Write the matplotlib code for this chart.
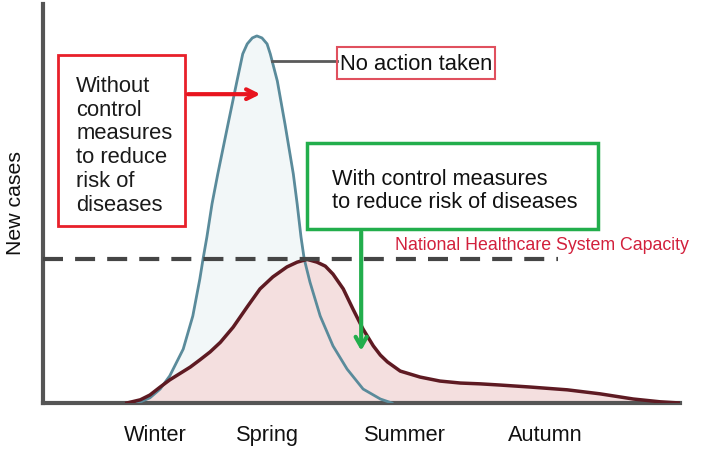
import matplotlib.pyplot as plt
from matplotlib.patches import Rectangle

plt.rcParams['font.family'] = ['Liberation Sans', 'DejaVu Sans']

# curve readings (x = time, y = new cases, both on a 0-100 scale)
no_action_x = [14.8, 16.7, 18.3, 19.8, 21.9, 23.4, 24.5, 25.0, 25.6, 26.4, 27.3, 28.9,
               30.3, 31.2, 31.9, 32.7, 33.4, 34.2, 35.0, 35.5, 36.6, 37.8, 39.1, 39.7,
               40.3, 40.8, 41.7, 43.3, 45.3, 47.5, 50.0, 52.7, 54.5]
no_action_y = [0.0, 1.3, 3.5, 6.8, 13.5, 21.8, 31.1, 36.1, 41.6, 49.9, 57.4, 69.9,
               80.7, 87.5, 90.0, 91.5, 92.0, 91.5, 90.0, 87.5, 80.7, 69.9, 57.4, 49.9,
               41.6, 36.1, 30.3, 21.8, 14.3, 8.5, 3.5, 1.0, 0.0]

control_x = [13.1, 15.2, 16.7, 18.3, 19.8, 21.4, 23.0, 24.5, 26.1, 27.7, 29.7, 31.9,
             33.9, 35.9, 38.1, 39.7, 41.25, 42.8, 44.1, 45.3, 46.9, 48.4, 50.0, 51.6,
             52.7, 53.8, 55.8, 58.9, 62.0, 65.2, 68.3, 71.4, 76.1, 81.9, 87.0, 92.2,
             96.4, 99.5]
control_y = [0.0, 0.8, 2.0, 4.0, 5.8, 7.4, 9.0, 10.8, 12.8, 15.2, 19.0, 24.1,
             28.6, 31.6, 34.1, 35.3, 36.0, 35.3, 34.3, 32.3, 28.6, 23.6, 18.5, 14.3,
             12.0, 10.3, 8.0, 6.5, 5.5, 5.0, 4.8, 4.5, 4.0, 3.3, 2.3, 1.0,
             0.3, 0.0]

capacity = 36.1
season_pos = [17.5, 35.0, 56.6, 78.4]
season_labels = ['Winter', 'Spring', 'Summer', 'Autumn']

fig = plt.figure(figsize=(7.03, 4.52), dpi=100)
ax = fig.add_axes([43 / 703, 48 / 452, 637 / 703, 399 / 452])
ax.set_xlim(0, 99.5)
ax.set_ylim(0, 100)

ax.fill_between(no_action_x, no_action_y, color='#f2f7f8', zorder=1)
ax.fill_between(control_x, control_y, color='#f4dfdf', zorder=2)
ax.plot(no_action_x, no_action_y, color='#5a8b9b', lw=2, zorder=3,
        solid_joinstyle='round')
ax.plot(control_x, control_y, color='#5e1a22', lw=2.5, zorder=4,
        solid_joinstyle='round')

ax.plot([0, 80.4], [capacity, capacity], color='#454545', lw=3,
        dashes=(4.8, 2.9), zorder=5)
ax.text(55.0, 39.8, 'National Healthcare System Capacity', color='#d2203c',
        fontsize=12.8, va='center', ha='left')

# red box + arrow
ax.add_patch(Rectangle((2.34, 44.4), 19.86, 42.8, fill=False, ec='#e8202a',
                       lw=2, zorder=6, clip_on=False))
ax.text(5.2, 82.2, 'Without\ncontrol\nmeasures\nto reduce\nrisk of\ndiseases',
        fontsize=15.8, va='top', ha='left', linespacing=1.17, color='#1a1a1a')
ax.annotate('', xy=(34.4, 77.4), xytext=(22.2, 77.4),
            arrowprops=dict(arrowstyle='->,head_length=0.7,head_width=0.35',
                            color='#e8141e', lw=3), zorder=7)

# no action label
ax.plot([35.8, 45.9], [85.7, 85.7], color='#5a5a5a', lw=2, zorder=6)
ax.add_patch(Rectangle((45.9, 81.2), 24.7, 8.0, fill=False, ec='#e0505e',
                       lw=1.5, zorder=6))
ax.text(46.4, 85.2, 'No action taken', fontsize=15.8, va='center', ha='left',
        color='#111111')

# green box + arrow
ax.add_patch(Rectangle((41.25, 43.6), 45.45, 21.6, fill=False, ec='#22ae4c',
                       lw=2.5, zorder=6))
ax.text(45.2, 53.4, 'With control measures\nto reduce risk of diseases',
        fontsize=15.7, va='center', ha='left', linespacing=1.08, color='#111111')
ax.annotate('', xy=(49.7, 12.4), xytext=(49.7, 43.6),
            arrowprops=dict(arrowstyle='->,head_length=0.7,head_width=0.4',
                            color='#22ae4c', lw=3), zorder=7)

for side in ['top', 'right']:
    ax.spines[side].set_visible(False)
for side in ['left', 'bottom']:
    ax.spines[side].set_color('#555555')
    ax.spines[side].set_linewidth(3)

ax.set_yticks([])
ax.set_xticks(season_pos)
ax.set_xticklabels(season_labels, fontsize=15.7, color='#111111')
ax.tick_params(axis='x', length=0, pad=15)
ax.set_ylabel('New cases', fontsize=15.3, color='#111111')
ax.yaxis.set_label_coords(-0.028, 0.504)

fig.savefig('out.png', dpi=100)
